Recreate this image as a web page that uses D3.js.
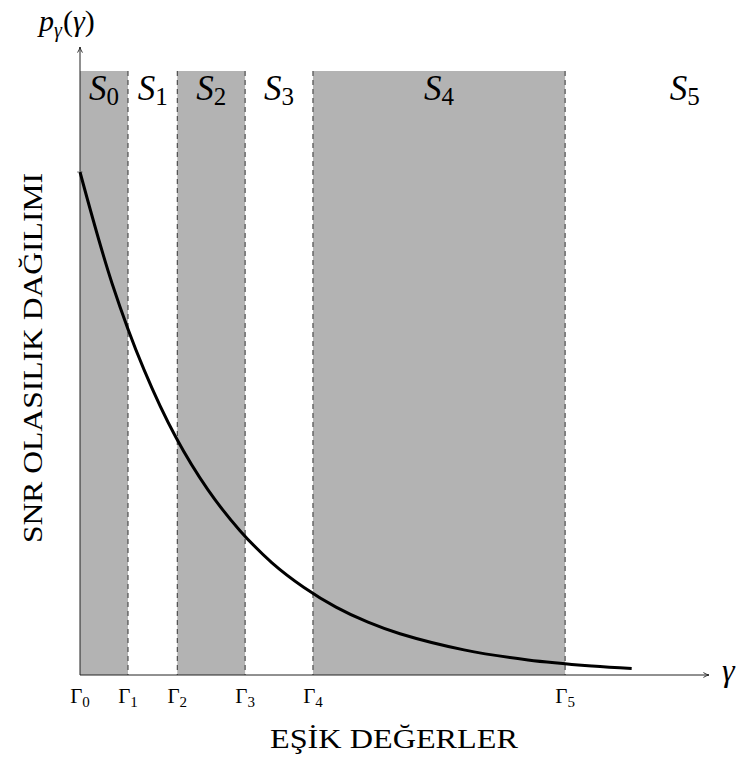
<!DOCTYPE html>
<html>
<head>
<meta charset="utf-8">
<script src="https://cdn.jsdelivr.net/npm/d3@7"></script>
<style>
  body { margin: 0; background: #fff; }
</style>
</head>
<body>
<svg id="chart" width="738" height="760"></svg>
<script>
// thresholds Γ0..Γ5 (gamma units)
const thresholds = [0, 0.375, 0.76, 1.29, 1.82, 3.79];
const thresholdLabels = ["0", "1", "2", "3", "4", "5"];
// regions S0..S5
const regionNames = ["0", "1", "2", "3", "4", "5"];
const regionShaded = [true, false, true, false, true, false];
const lastRegionEnd = 5.66;
// pdf curve
const curveGamma = [0, 0.25, 0.5, 0.75, 1, 1.25, 1.5, 1.75, 2, 2.25, 2.5, 3, 3.5, 4, 4.31];
const curveP = [1, 0.779, 0.607, 0.472, 0.368, 0.287, 0.223, 0.174, 0.135, 0.105, 0.082, 0.050, 0.030, 0.018, 0.013];

const FONT = "Liberation Serif";
const svg = d3.select("#chart").attr("font-family", FONT);
const x0 = 80, xEnd = 709, yBase = 675, yTop = 47, shadeTop = 71;

const x = d3.scaleLinear().domain([0, 1]).range([x0, x0 + 128]);
const y = d3.scaleLinear().domain([0, 1]).range([yBase, 172]);

const regions = thresholds.map((t, i) => ({
  name: regionNames[i],
  start: t,
  end: i < thresholds.length - 1 ? thresholds[i + 1] : lastRegionEnd,
  shaded: regionShaded[i]
}));

// shaded regions
svg.append("g").selectAll("rect")
  .data(regions.filter(d => d.shaded))
  .join("rect")
  .attr("x", d => x(d.start))
  .attr("y", shadeTop)
  .attr("width", d => x(d.end) - x(d.start))
  .attr("height", yBase - shadeTop)
  .attr("fill", "#b3b3b3");

// dashed threshold lines
svg.append("g").selectAll("line")
  .data(thresholds.slice(1))
  .join("line")
  .attr("x1", d => x(d)).attr("x2", d => x(d))
  .attr("y1", shadeTop).attr("y2", yBase)
  .attr("stroke", "#333")
  .attr("stroke-width", 1)
  .attr("stroke-dasharray", "5,4");

// region labels S_i
const sLab = svg.append("g").selectAll("text")
  .data(regions)
  .join("text")
  .attr("font-family", FONT)
  .attr("x", d => (x(d.start) + x(d.end)) / 2)
  .attr("y", 100)
  .attr("text-anchor", "middle")
  .attr("font-size", 35);
sLab.append("tspan").attr("font-style", "italic").text("S");
sLab.append("tspan").attr("dy", 5).attr("font-size", 25).text(d => d.name);

// axes with arrows
svg.append("defs").append("marker")
  .attr("id", "arr")
  .attr("viewBox", "0 0 10 10")
  .attr("refX", 9).attr("refY", 5)
  .attr("markerWidth", 7).attr("markerHeight", 7)
  .attr("markerUnits", "userSpaceOnUse")
  .attr("orient", "auto")
  .append("path")
  .attr("d", "M1,1.5 Q5,4.2 9,5 Q5,5.8 1,8.5")
  .attr("fill", "none")
  .attr("stroke", "#222")
  .attr("stroke-width", 1.3);

svg.append("line")
  .attr("x1", x0).attr("x2", xEnd).attr("y1", yBase).attr("y2", yBase)
  .attr("stroke", "#222").attr("stroke-width", 1)
  .attr("marker-end", "url(#arr)");
svg.append("line")
  .attr("x1", x0).attr("x2", x0).attr("y1", yBase).attr("y2", yTop)
  .attr("stroke", "#222").attr("stroke-width", 1)
  .attr("marker-end", "url(#arr)");

// y tick at peak value
svg.append("line")
  .attr("x1", x0 - 3).attr("x2", x0 + 3)
  .attr("y1", y(1)).attr("y2", y(1))
  .attr("stroke", "#888").attr("stroke-width", 1);

// pdf curve
const line = d3.line()
  .x((d, i) => x(curveGamma[i]))
  .y(d => y(d))
  .curve(d3.curveCatmullRom.alpha(0.5));
svg.append("path")
  .datum(curveP)
  .attr("d", line)
  .attr("fill", "none")
  .attr("stroke", "#000")
  .attr("stroke-width", 3);

// tick labels Γ_i
const gLab = svg.append("g").selectAll("text")
  .data(thresholds)
  .join("text")
  .attr("font-family", FONT)
  .attr("x", d => x(d))
  .attr("y", 703)
  .attr("text-anchor", "middle")
  .attr("font-size", 21);
gLab.append("tspan").text("Γ");
gLab.append("tspan").attr("dy", 4).attr("font-size", 15).text((d, i) => thresholdLabels[i]);

// axis titles
svg.append("text")
  .attr("font-family", FONT)
  .attr("x", 394).attr("y", 748)
  .attr("text-anchor", "middle")
  .attr("font-size", 27)
  .attr("textLength", 248)
  .attr("lengthAdjust", "spacingAndGlyphs")
  .text("EŞİK DEĞERLER");

svg.append("text")
  .attr("font-family", FONT)
  .attr("transform", "translate(42,358) rotate(-90)")
  .attr("text-anchor", "middle")
  .attr("font-size", 28)
  .attr("textLength", 370)
  .attr("lengthAdjust", "spacingAndGlyphs")
  .text("SNR OLASILIK DAĞILIMI");

const pt = svg.append("text")
  .attr("font-family", FONT)
  .attr("x", 39).attr("y", 31)
  .attr("font-size", 30);
pt.append("tspan").attr("font-style", "italic").text("p");
pt.append("tspan").attr("dy", 6).attr("font-size", 20).attr("font-style", "italic").text("γ");
pt.append("tspan").attr("dy", -6).attr("dx", 1).text("(");
pt.append("tspan").attr("font-style", "italic").text("γ");
pt.append("tspan").text(")");

svg.append("text")
  .attr("font-family", FONT)
  .attr("x", 722).attr("y", 681)
  .attr("font-size", 32)
  .attr("font-style", "italic")
  .text("γ");
</script>
</body>
</html>
